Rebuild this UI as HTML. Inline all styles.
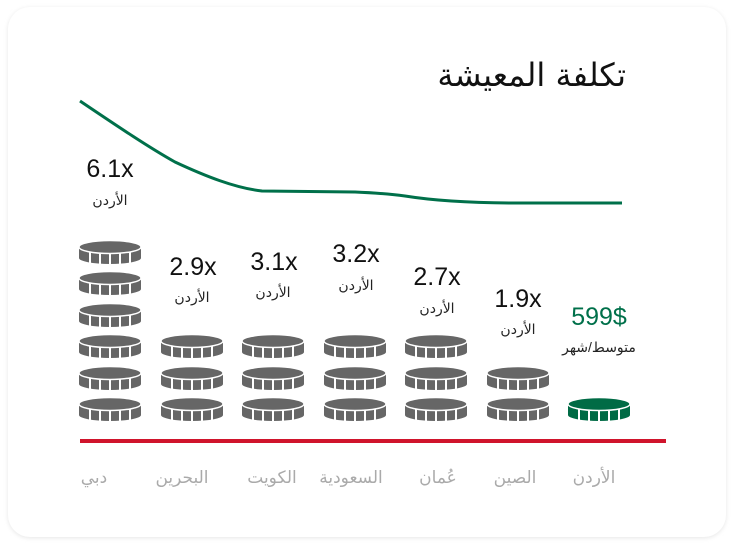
<!DOCTYPE html>
<html><head><meta charset="utf-8"><style>
html,body{margin:0;padding:0;background:#fff;width:734px;height:546px;overflow:hidden}
svg{display:block}
text{font-family:"Liberation Sans","DejaVu Sans",sans-serif}
.ar{font-family:"DejaVu Sans",sans-serif}
</style></head><body>
<svg width="734" height="546" viewBox="0 0 734 546" xmlns="http://www.w3.org/2000/svg">
<defs>
<filter id="sh" x="-5%" y="-5%" width="110%" height="110%"><feGaussianBlur stdDeviation="2"/></filter>
<g id="coin">
<path d="M-31,0 L-31,11 A31 6 0 0 0 31,11 L31,0 Z" fill="#666"/>
<g stroke="#fff" stroke-width="2"><line x1="-20" y1="4" x2="-20" y2="19"/><line x1="-10" y1="4" x2="-10" y2="19"/><line x1="0" y1="4" x2="0" y2="19"/><line x1="10" y1="4" x2="10" y2="19"/><line x1="20" y1="4" x2="20" y2="19"/></g>
<ellipse cx="0" cy="0" rx="31" ry="6.5" fill="#666" stroke="#fff" stroke-width="1.5"/>
</g>
<g id="gcoin">
<path d="M-31,0 L-31,11 A31 6 0 0 0 31,11 L31,0 Z" fill="#006b45"/>
<g stroke="#fff" stroke-width="2"><line x1="-20" y1="4" x2="-20" y2="19"/><line x1="-10" y1="4" x2="-10" y2="19"/><line x1="0" y1="4" x2="0" y2="19"/><line x1="10" y1="4" x2="10" y2="19"/><line x1="20" y1="4" x2="20" y2="19"/></g>
<ellipse cx="0" cy="0" rx="31" ry="6.5" fill="#006b45" stroke="#fff" stroke-width="1.5"/>
</g>
</defs>
<rect x="8" y="8" width="718" height="530" rx="22" fill="#e6e6e6" filter="url(#sh)"/>
<rect x="8" y="7" width="718" height="530" rx="22" fill="#fff"/>
<text class="ar" x="626" y="86" text-anchor="end" font-size="32" fill="#111">تكلفة المعيشة</text>
<path d="M80,101 C120,128 150,148 175,162 C205,176 235,188 262,191 L355,192 C380,193 390,194 405,196 C430,200 470,203 518,203 L622,203" fill="none" stroke="#00704a" stroke-width="3"/>
<g>
<use href="#coin" x="110" y="404"/><use href="#coin" x="110" y="373"/><use href="#coin" x="110" y="341"/><use href="#coin" x="110" y="310"/><use href="#coin" x="110" y="278"/><use href="#coin" x="110" y="247"/>
<use href="#coin" x="192" y="404"/><use href="#coin" x="192" y="373"/><use href="#coin" x="192" y="341"/>
<use href="#coin" x="273" y="404"/><use href="#coin" x="273" y="373"/><use href="#coin" x="273" y="341"/>
<use href="#coin" x="355" y="404"/><use href="#coin" x="355" y="373"/><use href="#coin" x="355" y="341"/>
<use href="#coin" x="436" y="404"/><use href="#coin" x="436" y="373"/><use href="#coin" x="436" y="341"/>
<use href="#coin" x="518" y="404"/><use href="#coin" x="518" y="373"/>
<use href="#gcoin" x="599" y="404"/>
</g>
<g font-size="25" fill="#111" text-anchor="middle">
<text x="110" y="177">6.1x</text>
<text x="193" y="275">2.9x</text>
<text x="274" y="270">3.1x</text>
<text x="356" y="262">3.2x</text>
<text x="437" y="285">2.7x</text>
<text x="518" y="307">1.9x</text>
</g>
<text x="599" y="325" font-size="25" fill="#00704a" text-anchor="middle">599$</text>
<g class="ar" font-size="14" fill="#222" text-anchor="middle">
<text x="110" y="205">الأردن</text>
<text x="192" y="302">الأردن</text>
<text x="273" y="297">الأردن</text>
<text x="356" y="290">الأردن</text>
<text x="437" y="313">الأردن</text>
<text x="518" y="334">الأردن</text>
<text x="599" y="352">متوسط/شهر</text>
</g>
<rect x="80" y="439" width="586" height="4" fill="#d0142c"/>
<g class="ar" font-size="17" fill="#aaa" text-anchor="middle">
<text x="94" y="483">دبي</text>
<text x="182" y="483">البحرين</text>
<text x="272" y="483">الكويت</text>
<text x="351" y="483">السعودية</text>
<text x="438" y="483">عُمان</text>
<text x="515" y="483">الصين</text>
<text x="594" y="483">الأردن</text>
</g>
</svg>
</body></html>
